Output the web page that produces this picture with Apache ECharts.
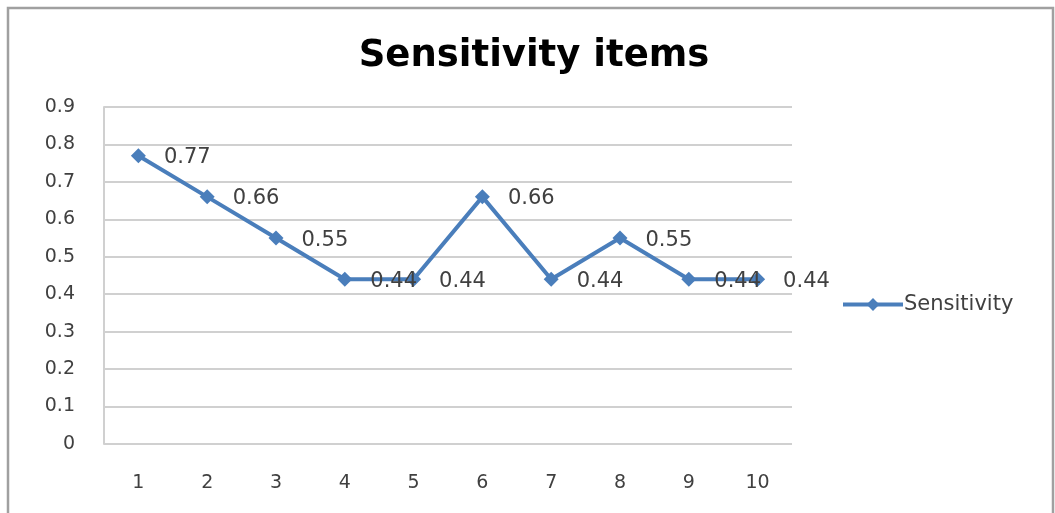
<!DOCTYPE html>
<html>
<head>
<meta charset="utf-8">
<script src="https://cdn.jsdelivr.net/npm/echarts@6/dist/echarts.min.js"></script>
<style>
  html, body { margin: 0; padding: 0; background: #fff; }
  #chart { width: 1055px; height: 513px; }
</style>
</head>
<body>
<div id="chart"></div>
<script>
var categories = ['1', '2', '3', '4', '5', '6', '7', '8', '9', '10'];
var sensitivity = [0.77, 0.66, 0.55, 0.44, 0.44, 0.66, 0.44, 0.55, 0.44, 0.44];

var chart = echarts.init(document.getElementById('chart'), null, { renderer: 'canvas' });
var option = {
  animation: false,
  title: {
    text: 'Sensitivity items',
    left: 529,
    top: 33,
    textAlign: 'center',
    textStyle: { fontFamily: 'DejaVu Sans', fontWeight: 'bold', fontSize: 37, color: '#000' }
  },
  graphic: [{
    type: 'rect',
    shape: { x: 8, y: 8, width: 1045, height: 530 },
    style: { fill: 'none', stroke: '#a0a0a0', lineWidth: 2.5 }
  }],
  legend: {
    orient: 'vertical',
    left: 836,
    top: 289,
    itemWidth: 60,
    itemHeight: 16,
    itemGap: 4,
    lineStyle: { width: 4 },
    textStyle: { fontFamily: 'DejaVu Sans', fontSize: 21, color: '#404040', padding: [0, 0, 0, -4] },
    data: ['Sensitivity']
  },
  grid: { left: 104, right: 263, top: 107, bottom: 69 },
  xAxis: {
    type: 'category',
    data: categories,
    boundaryGap: true,
    axisLine: { show: false },
    axisTick: { show: false },
    axisLabel: { fontFamily: 'DejaVu Sans', fontSize: 19, color: '#404040', margin: 30 }
  },
  yAxis: {
    type: 'value',
    min: 0,
    max: 0.9,
    interval: 0.1,
    axisLine: { show: true, lineStyle: { color: '#d0d0d0', width: 2 } },
    axisTick: { show: false },
    splitLine: { lineStyle: { color: '#d0d0d0', width: 2 } },
    axisLabel: { fontFamily: 'DejaVu Sans', fontSize: 19, color: '#404040', margin: 29,
      formatter: function (v) { return String(Math.round(v * 10) / 10); } }
  },
  series: [{
    name: 'Sensitivity',
    type: 'line',
    data: sensitivity,
    symbol: 'diamond',
    symbolSize: 15,
    lineStyle: { color: '#4a7ebb', width: 4 },
    itemStyle: { color: '#4a7ebb' },
    label: {
      show: true,
      position: 'right',
      distance: 18,
      offset: [0, 2],
      fontFamily: 'DejaVu Sans',
      fontSize: 21,
      color: '#404040'
    }
  }]
};
chart.setOption(option);
</script>
</body>
</html>
